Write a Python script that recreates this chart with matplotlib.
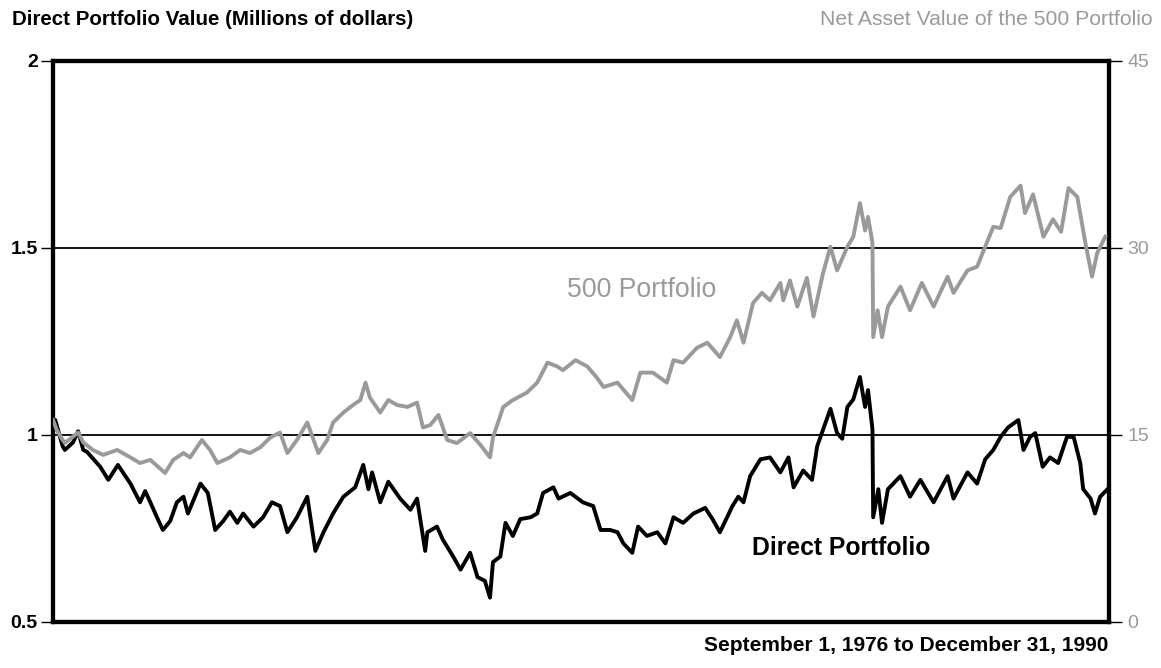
import matplotlib
matplotlib.use('Agg')
import matplotlib.pyplot as plt

plt.rcParams['font.family'] = ['Liberation Sans', 'DejaVu Sans']

# Direct Portfolio, millions of dollars (left axis)
direct_years = [1976.67, 1976.70, 1976.80, 1976.83, 1976.94, 1977.01, 1977.08, 1977.13,
                1977.31, 1977.42, 1977.55, 1977.72, 1977.85, 1977.92, 1977.99, 1978.08,
                1978.16, 1978.26, 1978.35, 1978.44, 1978.50, 1978.67, 1978.77, 1978.87,
                1978.98, 1979.07, 1979.17, 1979.25, 1979.39, 1979.52, 1979.64, 1979.75,
                1979.85, 1979.98, 1980.12, 1980.23, 1980.34, 1980.47, 1980.61, 1980.77,
                1980.88, 1980.95, 1981.00, 1981.11, 1981.22, 1981.38, 1981.52, 1981.61,
                1981.72, 1981.75, 1981.88, 1981.96, 1982.10, 1982.20, 1982.33, 1982.43,
                1982.53, 1982.60, 1982.64, 1982.74, 1982.81, 1982.91, 1983.01, 1983.15,
                1983.24, 1983.32, 1983.46, 1983.53, 1983.69, 1983.86, 1984.00, 1984.10,
                1984.23, 1984.33, 1984.41, 1984.53, 1984.61, 1984.73, 1984.87, 1984.98,
                1985.09, 1985.22, 1985.36, 1985.52, 1985.62, 1985.72, 1985.89, 1985.97,
                1986.04, 1986.13, 1986.27, 1986.40, 1986.54, 1986.65, 1986.72, 1986.85,
                1986.97, 1987.04, 1987.22, 1987.31, 1987.38, 1987.45, 1987.53, 1987.62,
                1987.69, 1987.73, 1987.79, 1987.80, 1987.87, 1987.92, 1988.00, 1988.17,
                1988.30, 1988.44, 1988.62, 1988.81, 1988.89, 1989.08, 1989.21, 1989.32,
                1989.43, 1989.53, 1989.63, 1989.77, 1989.84, 1989.93, 1990.00, 1990.10,
                1990.20, 1990.31, 1990.43, 1990.52, 1990.61, 1990.65, 1990.75, 1990.81,
                1990.88, 1990.98]
direct_value = [1.04, 1.04, 0.97, 0.96, 0.98, 1.01, 0.96, 0.955,
                0.915, 0.88, 0.92, 0.87, 0.82, 0.85, 0.82, 0.78,
                0.746, 0.77, 0.82, 0.835, 0.79, 0.87, 0.845, 0.746,
                0.77, 0.795, 0.765, 0.79, 0.755, 0.78, 0.82, 0.81,
                0.74, 0.78, 0.835, 0.69, 0.74, 0.79, 0.835, 0.86,
                0.92, 0.855, 0.90, 0.82, 0.875, 0.83, 0.80, 0.83,
                0.69, 0.74, 0.755, 0.72, 0.675, 0.64, 0.685, 0.62,
                0.61, 0.565, 0.66, 0.675, 0.765, 0.73, 0.775, 0.78,
                0.79, 0.845, 0.86, 0.83, 0.845, 0.82, 0.81, 0.746,
                0.746, 0.74, 0.71, 0.685, 0.755, 0.73, 0.74, 0.71,
                0.78, 0.765, 0.79, 0.805, 0.775, 0.74, 0.81, 0.835,
                0.82, 0.89, 0.935, 0.94, 0.90, 0.94, 0.86, 0.905,
                0.88, 0.97, 1.07, 1.005, 0.99, 1.075, 1.095, 1.155,
                1.075, 1.12, 1.015, 0.78, 0.855, 0.765, 0.855, 0.89,
                0.835, 0.88, 0.82, 0.89, 0.83, 0.90, 0.87, 0.935,
                0.96, 0.995, 1.02, 1.04, 0.96, 0.995, 1.005, 0.915,
                0.94, 0.925, 0.995, 0.995, 0.925, 0.855, 0.83, 0.79,
                0.835, 0.855]

# Net asset value of the 500 Portfolio (right axis)
nav_years = [1976.67, 1976.72, 1976.80, 1976.83, 1977.01, 1977.08, 1977.21, 1977.35,
             1977.54, 1977.72, 1977.85, 1977.99, 1978.19, 1978.30, 1978.44, 1978.53,
             1978.69, 1978.80, 1978.90, 1979.07, 1979.21, 1979.34, 1979.48, 1979.62,
             1979.75, 1979.85, 1979.98, 1980.12, 1980.27, 1980.39, 1980.47, 1980.61,
             1980.74, 1980.84, 1980.91, 1980.97, 1981.11, 1981.22, 1981.34, 1981.48,
             1981.61, 1981.69, 1981.79, 1981.90, 1982.02, 1982.15, 1982.33, 1982.47,
             1982.60, 1982.64, 1982.78, 1982.91, 1983.10, 1983.24, 1983.38, 1983.51,
             1983.59, 1983.76, 1983.92, 1984.05, 1984.14, 1984.33, 1984.53, 1984.64,
             1984.81, 1985.00, 1985.09, 1985.22, 1985.41, 1985.55, 1985.72, 1985.86,
             1985.95, 1986.04, 1986.17, 1986.29, 1986.40, 1986.54, 1986.58, 1986.67,
             1986.77, 1986.90, 1986.99, 1987.12, 1987.22, 1987.31, 1987.45, 1987.53,
             1987.62, 1987.69, 1987.73, 1987.79, 1987.80, 1987.86, 1987.92, 1988.00,
             1988.17, 1988.30, 1988.46, 1988.62, 1988.81, 1988.89, 1989.08, 1989.21,
             1989.32, 1989.43, 1989.53, 1989.66, 1989.80, 1989.86, 1989.97, 1990.11,
             1990.24, 1990.35, 1990.45, 1990.57, 1990.68, 1990.77, 1990.84, 1990.95]
nav_value = [16.2, 15.4, 14.6, 14.35, 15.2, 14.4, 13.8, 13.4,
             13.8, 13.2, 12.75, 13.0, 11.95, 13.0, 13.55, 13.2,
             14.6, 13.8, 12.75, 13.2, 13.8, 13.55, 14.0, 14.8,
             15.2, 13.55, 14.6, 16.0, 13.55, 14.6, 16.0, 16.8,
             17.4, 17.8, 19.2, 18.0, 16.8, 17.8, 17.4, 17.25,
             17.6, 15.6, 15.8, 16.6, 14.6, 14.35, 15.15, 14.2,
             13.2, 14.8, 17.25, 17.8, 18.4, 19.2, 20.8, 20.5,
             20.2, 21.0, 20.5, 19.6, 18.85, 19.2, 17.8, 20.0,
             20.0, 19.2, 21.0, 20.8, 22.0, 22.4, 21.25, 22.85,
             24.2, 22.4, 25.6, 26.4, 25.8, 27.2, 25.8, 27.4,
             25.3, 27.6, 24.5, 28.0, 30.1, 28.2, 30.1, 30.9,
             33.6, 31.4, 32.5, 30.4, 22.85, 25.0, 22.85, 25.3,
             26.9, 25.0, 27.2, 25.3, 27.7, 26.4, 28.2, 28.5,
             30.1, 31.7, 31.6, 34.1, 35.0, 32.8, 34.3, 30.9,
             32.3, 31.3, 34.8, 34.1, 30.4, 27.7, 29.6, 30.9]

left_ticks = [0.5, 1, 1.5, 2]
left_labels = ['0.5', '1', '1.5', '2']
right_ticks = [0, 15, 30, 45]
right_labels = ['0', '15', '30', '45']

gray = '#9a9a9a'

fig = plt.figure(figsize=(11.61, 6.68), dpi=100)
ax = fig.add_axes([0.0457, 0.0689, 0.9095, 0.8398])
ax2 = ax.twinx()

ax.set_xlim(1976.67, 1991.0)
ax.set_ylim(0.5, 2)
ax2.set_ylim(0, 45)

# reference lines at 1 and 1.5
for y in [1, 1.5]:
    ax.axhline(y, color='black', lw=1.3, zorder=1)

ax.plot(direct_years, direct_value, color='black', lw=2.8, zorder=3)
ax2.plot(nav_years, nav_value, color=gray, lw=2.8, zorder=3)

ax.set_xticks([])
ax.set_yticks(left_ticks)
ax.set_yticklabels(left_labels, fontsize=14, fontweight='bold')
ax.tick_params(axis='y', direction='out', length=9, width=1, pad=2)
ax2.set_yticks(right_ticks)
ax2.set_yticklabels(right_labels, fontsize=14, color=gray)
ax2.tick_params(axis='y', direction='out', length=9, width=1, pad=4)

for a in (ax, ax2):
    for s in a.spines.values():
        s.set_linewidth(3)
        s.set_color('black')

fig.text(0.0103, 0.971, 'Direct Portfolio Value (Millions of dollars)',
         fontsize=14.8, fontweight='bold', ha='left', va='center')
fig.text(0.993, 0.971, 'Net Asset Value of the 500 Portfolio',
         fontsize=15.2, color=gray, ha='right', va='center')
fig.text(0.955, 0.034, 'September 1, 1976 to December 31, 1990',
         fontsize=15, fontweight='bold', ha='right', va='center')

ax.text(1986.16, 0.698, 'Direct Portfolio', fontsize=17.8, fontweight='bold',
        ha='left', va='center')
ax2.text(1983.65, 26.6, '500 Portfolio', fontsize=19.2, color=gray,
         ha='left', va='center')

fig.savefig('out.png', dpi=100)
